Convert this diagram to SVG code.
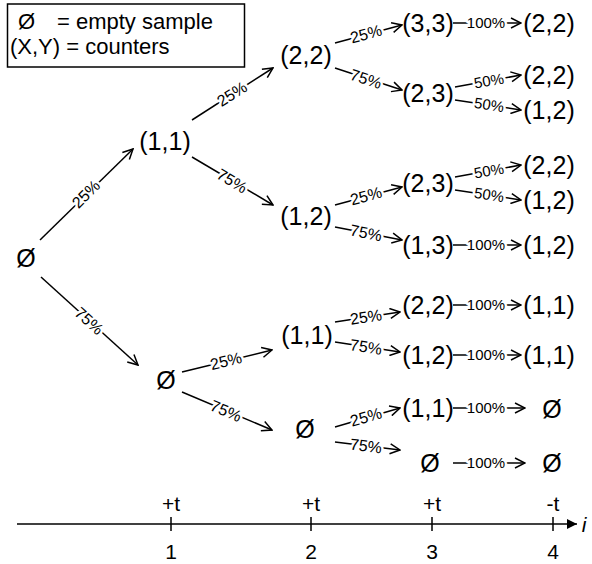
<svg xmlns="http://www.w3.org/2000/svg" width="592" height="564" viewBox="0 0 592 564">
<style>
text{font-family:"Liberation Sans",Arial,sans-serif}
.n{font-size:25px;text-anchor:middle;fill:#000}
.lg{font-size:22px;fill:#000}
.p{font-size:16px;text-anchor:middle}
.q{font-size:15px;text-anchor:middle}
.c line{stroke:#000;stroke-width:1.5;marker-end:url(#ah)}
.ax{font-size:21px;text-anchor:middle;fill:#000}
</style>
<defs>
<marker id="ah" viewBox="0 0 12 12" refX="11" refY="6" markerWidth="12" markerHeight="12" orient="auto" markerUnits="userSpaceOnUse"><path d="M1,1 L11,6 L1,11" fill="none" stroke="#000" stroke-width="1.5"/></marker>
<marker id="ax" viewBox="0 0 10 10" refX="10" refY="5" markerWidth="10" markerHeight="12" orient="auto" markerUnits="userSpaceOnUse"><path d="M0,0 L10,5 L0,10 Z" fill="#000"/></marker>
<g id="lbls">
<text class="p" transform="translate(86,194) rotate(-44.4)" y="5.5">25%</text>
<text class="p" transform="translate(89,321) rotate(42.2)" y="5.5">75%</text>
<text class="p" transform="translate(232,94) rotate(-32.7)" y="5.5">25%</text>
<text class="p" transform="translate(232,181) rotate(30.6)" y="5.5">75%</text>
<text class="p" transform="translate(226,361) rotate(-13.7)" y="5.5">25%</text>
<text class="p" transform="translate(226,411) rotate(22.9)" y="5.5">75%</text>
<text class="p" transform="translate(366,34) rotate(-15)" y="5.5">25%</text>
<text class="p" transform="translate(366,79) rotate(18)" y="5.5">75%</text>
<text class="p" transform="translate(366,196) rotate(-15)" y="5.5">25%</text>
<text class="p" transform="translate(366,233) rotate(11)" y="5.5">75%</text>
<text class="p" transform="translate(366,317) rotate(-8.7)" y="5.5">25%</text>
<text class="p" transform="translate(366,347) rotate(8.7)" y="5.5">75%</text>
<text class="p" transform="translate(366,417) rotate(-16)" y="5.5">25%</text>
<text class="p" transform="translate(366,446) rotate(7)" y="5.5">75%</text>
<text class="q" x="486" y="28">100%</text>
<text class="q" transform="translate(489,81) rotate(-10)" y="5">50%</text>
<text class="q" transform="translate(489,105) rotate(8.6)" y="5">50%</text>
<text class="q" transform="translate(489,171) rotate(-10)" y="5">50%</text>
<text class="q" transform="translate(489,195) rotate(8.6)" y="5">50%</text>
<text class="q" x="486" y="250">100%</text>
<text class="q" x="486" y="310">100%</text>
<text class="q" x="486" y="360">100%</text>
<text class="q" x="486" y="413">100%</text>
<text class="q" x="486" y="468">100%</text>
</g>
</defs>
<g id="legend">
<rect x="7.5" y="4" width="237" height="63" fill="none" stroke="#000" stroke-width="1.5"/>
<text class="lg" x="18" y="29">Ø</text>
<text class="lg" x="57" y="29">= empty sample</text>
<text class="lg" x="10" y="54">(X,Y) = counters</text>
</g>
<g id="connectors" class="c">
<line x1="40" y1="240" x2="133" y2="149"/>
<line x1="41" y1="277" x2="138" y2="365"/>
<line x1="192" y1="120" x2="273" y2="68"/>
<line x1="192" y1="157" x2="273" y2="205"/>
<line x1="182" y1="372" x2="272" y2="350"/>
<line x1="182" y1="392" x2="272" y2="430"/>
<line x1="335" y1="43" x2="402" y2="25"/>
<line x1="335" y1="68" x2="402" y2="90"/>
<line x1="335" y1="205" x2="402" y2="187"/>
<line x1="335" y1="227" x2="402" y2="240"/>
<line x1="335" y1="322" x2="400" y2="312"/>
<line x1="335" y1="342" x2="400" y2="352"/>
<line x1="335" y1="427" x2="400" y2="408"/>
<line x1="335" y1="442" x2="400" y2="450"/>
<line x1="453" y1="23" x2="521" y2="23"/>
<line x1="455" y1="87" x2="521" y2="75"/>
<line x1="455" y1="100" x2="521" y2="110"/>
<line x1="455" y1="177" x2="521" y2="165"/>
<line x1="455" y1="190" x2="521" y2="200"/>
<line x1="453" y1="245" x2="521" y2="245"/>
<line x1="453" y1="305" x2="521" y2="305"/>
<line x1="453" y1="355" x2="521" y2="355"/>
<line x1="453" y1="408" x2="525" y2="408"/>
<line x1="453" y1="463" x2="525" y2="463"/>
</g>
<g id="edge-labels">
<use href="#lbls" fill="#fff" stroke="#fff" stroke-width="5" stroke-linejoin="round"/>
<use href="#lbls" fill="#000"/>
</g>
<g id="n0"><text class="n" x="26" y="267">Ø</text></g>
<g id="n1a"><text class="n" x="165" y="150">(1,1)</text></g>
<g id="n1b"><text class="n" x="166" y="389">Ø</text></g>
<g id="n2a"><text class="n" x="306" y="64">(2,2)</text></g>
<g id="n2b"><text class="n" x="306" y="225">(1,2)</text></g>
<g id="n2c"><text class="n" x="307" y="344">(1,1)</text></g>
<g id="n2d"><text class="n" x="305" y="438">Ø</text></g>
<g id="n3a"><text class="n" x="428" y="32">(3,3)</text></g>
<g id="n3b"><text class="n" x="428" y="102">(2,3)</text></g>
<g id="n3c"><text class="n" x="428" y="192">(2,3)</text></g>
<g id="n3d"><text class="n" x="428" y="254">(1,3)</text></g>
<g id="n3e"><text class="n" x="428" y="314">(2,2)</text></g>
<g id="n3f"><text class="n" x="428" y="364">(1,2)</text></g>
<g id="n3g"><text class="n" x="428" y="417">(1,1)</text></g>
<g id="n3h"><text class="n" x="430" y="472">Ø</text></g>
<g id="n4a"><text class="n" x="549" y="32">(2,2)</text></g>
<g id="n4b"><text class="n" x="549" y="84">(2,2)</text></g>
<g id="n4c"><text class="n" x="549" y="119">(1,2)</text></g>
<g id="n4d"><text class="n" x="549" y="174">(2,2)</text></g>
<g id="n4e"><text class="n" x="549" y="209">(1,2)</text></g>
<g id="n4f"><text class="n" x="549" y="254">(1,2)</text></g>
<g id="n4g"><text class="n" x="549" y="314">(1,1)</text></g>
<g id="n4h"><text class="n" x="549" y="364">(1,1)</text></g>
<g id="n4i"><text class="n" x="552" y="418">Ø</text></g>
<g id="n4j"><text class="n" x="552" y="472">Ø</text></g>
<g id="axis">
<line x1="17" y1="524" x2="577" y2="524" stroke="#000" stroke-width="1.5" marker-end="url(#ax)"/>
<path d="M171,517V531M311,517V531M432,517V531M553,517V531" stroke="#000" stroke-width="1.5"/>
<text class="ax" x="171" y="511">+t</text>
<text class="ax" x="311" y="511">+t</text>
<text class="ax" x="432" y="511">+t</text>
<text class="ax" x="553" y="511">-t</text>
<text class="ax" x="171" y="559">1</text>
<text class="ax" x="311" y="559">2</text>
<text class="ax" x="432" y="559">3</text>
<text class="ax" x="553" y="559">4</text>
<text class="ax" x="584" y="532" font-size="24" font-style="italic">i</text>
</g>
</svg>
